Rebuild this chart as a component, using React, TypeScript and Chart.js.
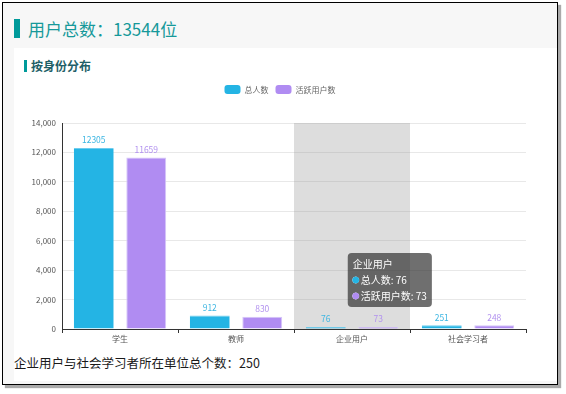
import React, { useEffect, useRef } from 'react';
import { Chart, registerables, Tooltip } from 'chart.js';

Chart.register(...registerables);

const FONT = '"Noto Sans CJK SC", "Noto Sans", sans-serif';

const categories = ['学生', '教师', '企业用户', '社会学习者'];
const seriesNames = ['总人数', '活跃用户数'];
const totalUsers = [12305, 912, 76, 251];
const activeUsers = [11659, 830, 73, 248];
const yMax = 14000;
const yStep = 2000;
const highlightIndex = 2;

const titleText = '用户总数：13544位';
const subTitleText = '按身份分布';
const footerText = '企业用户与社会学习者所在单位总个数：250';

const BLUE = '#24b4e4';
const PURPLE = '#b08cf2';

(Tooltip.positioners as any).besideBar = function (elements: any[]) {
  if (!elements.length) return false;
  const el = elements[0].element;
  const area = this.chart.chartArea;
  return { x: el.x + 26, y: area.top + 130, xAlign: 'left', yAlign: 'top' };
};

const tweaks = {
  id: 'tweaks',
  beforeInit(chart: any) {
    const legend = chart.legend;
    if (legend) {
      const orig = legend.fit;
      legend.fit = function () {
        orig.call(this);
        this.height += 19;
      };
    }
  },
  afterLayout(chart: any) {
    const legend = chart.legend;
    if (legend) {
      legend.left += 10;
      legend.right += 10;
    }
  },
  beforeDatasetsDraw(chart: any) {
    const { ctx, chartArea } = chart;
    const x = chart.scales.x;
    const w = x.width / categories.length;
    const cx = x.getPixelForValue(highlightIndex);
    ctx.save();
    ctx.fillStyle = 'rgba(150,150,150,0.32)';
    ctx.fillRect(cx - w / 2, chartArea.top, w, chartArea.bottom - chartArea.top);
    ctx.restore();
  },
  afterDatasetsDraw(chart: any) {
    const { ctx } = chart;
    ctx.save();
    ctx.font = `8.5px ${FONT}`;
    ctx.textAlign = 'center';
    ctx.textBaseline = 'middle';
    chart.data.datasets.forEach((ds: any, di: number) => {
      const meta = chart.getDatasetMeta(di);
      ctx.fillStyle = ds.labelColor;
      meta.data.forEach((el: any, i: number) => {
        ctx.fillText(String(ds.data[i]), el.x, el.y - 8);
      });
    });
    ctx.restore();
  },
};

function ChartCanvas() {
  const ref = useRef<HTMLCanvasElement | null>(null);
  useEffect(() => {
    if (!ref.current) return;
    Chart.defaults.font.family = FONT;
    const chart = new Chart(ref.current, {
      type: 'bar',
      data: {
        labels: categories,
        datasets: [
          {
            label: seriesNames[0],
            data: totalUsers,
            backgroundColor: BLUE,
            borderColor: '#6fcdee',
            borderWidth: { top: 1, left: 0, right: 0, bottom: 0 },
            categoryPercentage: 0.905,
            barPercentage: 0.76,
            minBarLength: 2,
            labelColor: '#3db6e2',
          } as any,
          {
            label: seriesNames[1],
            data: activeUsers,
            backgroundColor: PURPLE,
            borderColor: '#d6c6f8',
            borderWidth: 1,
            categoryPercentage: 0.905,
            barPercentage: 0.76,
            minBarLength: 2,
            labelColor: '#b292ef',
          } as any,
        ],
      },
      options: {
        animation: false,
        responsive: false,
        events: [],
        layout: { padding: { top: 0, right: 30, left: 0, bottom: 0 } },
        plugins: {
          legend: {
            position: 'top',
            labels: {
              boxWidth: 16,
              boxHeight: 9,
              useBorderRadius: true,
              borderRadius: 3,
              padding: 7,
              color: '#666',
              font: { size: 8, family: FONT },
              generateLabels(chart: any) {
                return chart.data.datasets.map((ds: any, i: number) => ({
                  text: ds.label,
                  fillStyle: ds.backgroundColor,
                  strokeStyle: ds.backgroundColor,
                  lineWidth: 0,
                  borderRadius: 3,
                  fontColor: '#666',
                  hidden: false,
                  datasetIndex: i,
                }));
              },
            },
          } as any,
          tooltip: {
            enabled: true,
            position: 'besideBar' as any,
            mode: 'index',
            backgroundColor: 'rgba(50,50,50,0.7)',
            titleColor: '#fff',
            bodyColor: '#fff',
            titleFont: { size: 10, weight: 'normal', family: FONT },
            bodyFont: { size: 10, family: FONT },
            titleMarginBottom: 4,
            bodySpacing: 4,
            padding: 5,
            caretSize: 0,
            caretPadding: 0,
            cornerRadius: 4,
            displayColors: true,
            usePointStyle: true,
            boxWidth: 6,
            boxHeight: 6,
            callbacks: {
              label(ctx: any) {
                return `${ctx.dataset.label}: ${ctx.raw}`;
              },
              labelColor(ctx: any) {
                return {
                  borderColor: ctx.dataset.backgroundColor,
                  backgroundColor: ctx.dataset.backgroundColor,
                  borderWidth: 0,
                };
              },
              labelPointStyle() {
                return { pointStyle: 'circle', rotation: 0 };
              },
            },
          } as any,
        },
        scales: {
          x: {
            grid: {
              offset: true,
              drawOnChartArea: false,
              drawTicks: true,
              tickLength: 4,
              color: '#333',
            },
            border: { color: '#333' },
            ticks: {
              color: '#555',
              font: { size: 8, family: FONT },
              padding: 1,
              autoSkip: false,
              maxRotation: 0,
            },
            afterFit(s: any) {
              s.height = 19;
            },
          },
          y: {
            min: 0,
            max: yMax,
            ticks: {
              stepSize: yStep,
              color: '#555',
              font: { size: 8, family: FONT },
              padding: 6,
            },
            grid: { color: '#e8e8e8', drawTicks: false },
            border: { color: '#333' },
            afterFit(s: any) {
              s.width = 48;
            },
          },
        },
      },
      plugins: [tweaks],
    });
    chart.tooltip?.setActiveElements(
      [
        { datasetIndex: 0, index: highlightIndex },
        { datasetIndex: 1, index: highlightIndex },
      ],
      { x: 0, y: 0 }
    );
    chart.update();
    return () => chart.destroy();
  }, []);
  return (
    <canvas
      ref={ref}
      width={542}
      height={270}
      style={{ position: 'absolute', left: 14, top: 78, width: 542, height: 270 }}
    />
  );
}

export default function App() {
  return (
    <div
      style={{
        position: 'fixed',
        left: 0,
        top: 0,
        width: 566,
        height: 394,
        background: '#fff',
        fontFamily: FONT,
        overflow: 'hidden',
      }}
    >
      <div
        style={{
          position: 'absolute',
          left: 2,
          top: 2,
          width: 556,
          height: 383,
          boxSizing: 'border-box',
          border: '1px solid #000',
          background: '#f7f7f7',
          boxShadow: '3px 3px 1px #aaa',
        }}
      />
      <div
        style={{
          position: 'absolute',
          left: 14,
          top: 48,
          width: 543,
          height: 333,
          background: '#fff',
        }}
      />
      <div style={{ position: 'absolute', left: 14, top: 19, width: 6, height: 19, background: '#009a9a' }} />
      <div
        style={{
          position: 'absolute',
          left: 28,
          top: 19,
          height: 20,
          lineHeight: '20px',
          fontSize: 17,
          color: '#16999a',
          whiteSpace: 'nowrap',
        }}
      >
        {titleText}
      </div>
      <div style={{ position: 'absolute', left: 24, top: 60, width: 3, height: 12, background: '#009a9a' }} />
      <div
        style={{
          position: 'absolute',
          left: 31,
          top: 58,
          height: 16,
          lineHeight: '16px',
          fontSize: 12,
          fontWeight: 'bold',
          color: '#1f5f68',
          whiteSpace: 'nowrap',
        }}
      >
        {subTitleText}
      </div>
      <ChartCanvas />
      <div
        style={{
          position: 'absolute',
          left: 14,
          top: 355,
          height: 16,
          lineHeight: '16px',
          fontSize: 12.5,
          color: '#1a1a1a',
          whiteSpace: 'nowrap',
        }}
      >
        {footerText}
      </div>
    </div>
  );
}
